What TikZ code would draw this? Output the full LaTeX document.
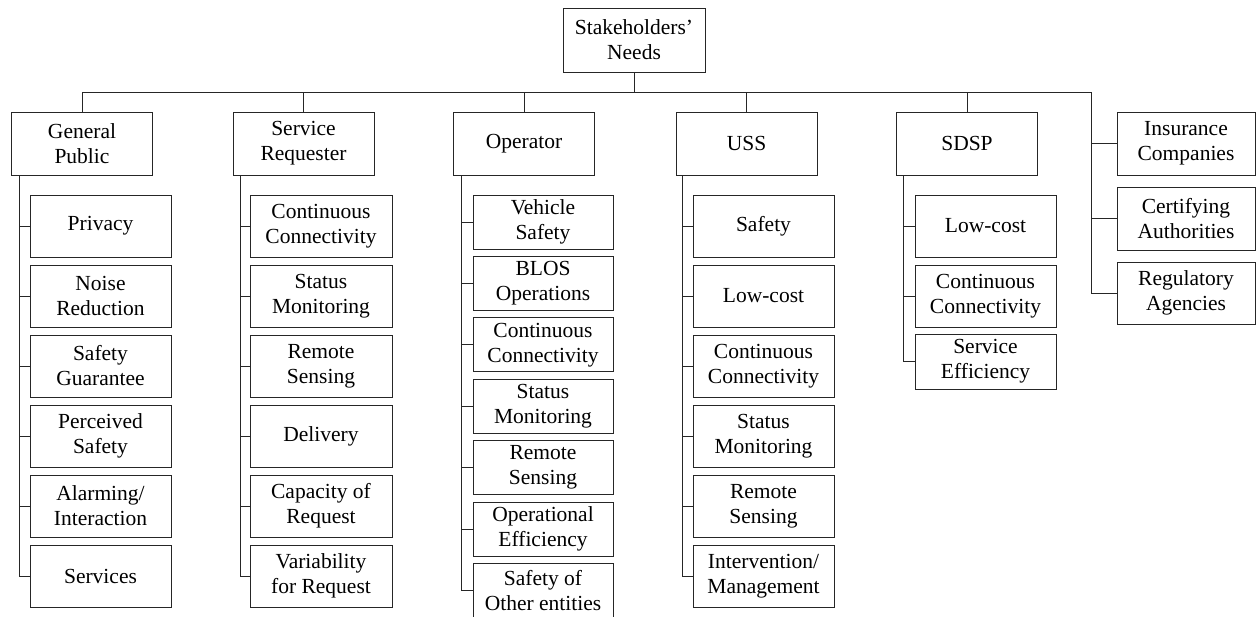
\documentclass[tikz,border=0pt]{standalone}
\usepackage{fontspec}
\setmainfont{Liberation Serif}
\begin{document}
\begin{tikzpicture}[x=1pt,y=-1pt,
  box/.style={draw=black!85, line width=1pt, inner sep=0pt, align=center,
    font=\fontsize{21.5}{25}\selectfont, minimum width=141pt},
  tall/.style={minimum height=62pt},
  short/.style={minimum height=54pt},
  link/.style={draw=black!85, line width=1pt}]
\useasboundingbox (0,0) rectangle (1256,616);

% root and first level
\node[box, minimum width=142pt, minimum height=64pt] (root) at (634,40) {Stakeholders'\\Needs};
\node[box, minimum height=63pt] (gp)  at (82,143.5)  {General\\Public};
\node[box, minimum height=63pt] (sr)  at (303.5,143.5) {Service\\Requester};
\node[box, minimum height=63pt] (op)  at (524,143.5) {Operator};
\node[box, minimum height=63pt] (uss) at (746.5,143.5) {USS};
\node[box, minimum height=63pt] (sdsp) at (967,143.5) {SDSP};
\node[box, minimum width=138pt, minimum height=63pt] (ins) at (1186,143.5) {Insurance\\Companies};
\node[box, minimum width=138pt, minimum height=63pt] (cert) at (1186,218.5) {Certifying\\Authorities};
\node[box, minimum width=138pt, minimum height=62pt] (reg) at (1186,293) {Regulatory\\Agencies};

% bus
\coordinate (busL) at (82,92);
\coordinate (busR) at (1091,92);
\coordinate (rootJ) at (634,92);
\draw[link] (root.south) -- (rootJ);
\draw[link] (busL) -- (busR);
\foreach \n in {gp,sr,op,uss,sdsp} \draw[link] (\n.north) -- (\n.north |- busL);
\foreach \n in {ins,cert,reg} \draw[link] (busR) |- (\n.west);

% General Public
\begin{scope}[every node/.style={box, tall}]
\node (gp1) at (100.5,226) {Privacy};
\node (gp2) at (100.5,296) {Noise\\Reduction};
\node (gp3) at (100.5,366) {Safety\\Guarantee};
\node (gp4) at (100.5,436) {Perceived\\Safety};
\node (gp5) at (100.5,506) {Alarming/\\Interaction};
\node (gp6) at (100.5,576) {Services};
\end{scope}
\coordinate (gpS) at (19,175);
\foreach \i in {1,...,6} \draw[link] (gpS) |- (gp\i.west);

% Service Requester
\begin{scope}[every node/.style={box, tall, minimum width=142pt}]
\node (sr1) at (321,226) {Continuous\\Connectivity};
\node (sr2) at (321,296) {Status\\Monitoring};
\node (sr3) at (321,366) {Remote\\Sensing};
\node (sr4) at (321,436) {Delivery};
\node (sr5) at (321,506) {Capacity of\\Request};
\node (sr6) at (321,576) {Variability\\for Request};
\end{scope}
\coordinate (srS) at (240,175);
\foreach \i in {1,...,6} \draw[link] (srS) |- (sr\i.west);

% Operator
\begin{scope}[every node/.style={box, short, minimum width=140pt}]
\node (op1) at (543,222) {Vehicle\\Safety};
\node (op2) at (543,283.4) {BLOS\\Operations};
\node (op3) at (543,344.8) {Continuous\\Connectivity};
\node (op4) at (543,406.2) {Status\\Monitoring};
\node (op5) at (543,467.6) {Remote\\Sensing};
\node (op6) at (543,529) {Operational\\Efficiency};
\node (op7) at (543,590.4) {Safety of\\Other entities};
\end{scope}
\coordinate (opS) at (461,175);
\foreach \i in {1,...,7} \draw[link] (opS) |- (op\i.west);

% USS
\begin{scope}[every node/.style={box, tall}]
\node (us1) at (763.5,226) {Safety};
\node (us2) at (763.5,296) {Low-cost};
\node (us3) at (763.5,366) {Continuous\\Connectivity};
\node (us4) at (763.5,436) {Status\\Monitoring};
\node (us5) at (763.5,506) {Remote\\Sensing};
\node (us6) at (763.5,576) {Intervention/\\Management};
\end{scope}
\coordinate (usS) at (682,175);
\foreach \i in {1,...,6} \draw[link] (usS) |- (us\i.west);

% SDSP
\node[box, tall] (sd1) at (985.5,226) {Low-cost};
\node[box, tall] (sd2) at (985.5,296) {Continuous\\Connectivity};
\node[box, minimum height=55pt] (sd3) at (985.5,361.5) {Service\\Efficiency};
\coordinate (sdS) at (903,175);
\foreach \i in {1,...,3} \draw[link] (sdS) |- (sd\i.west);
\end{tikzpicture}
\end{document}
